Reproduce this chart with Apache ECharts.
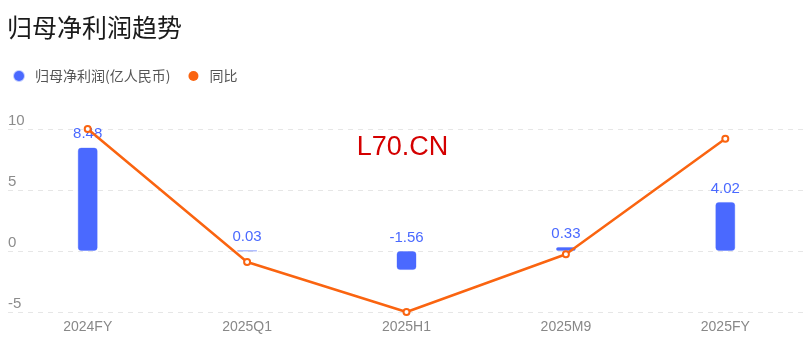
<!DOCTYPE html>
<html>
<head>
<meta charset="utf-8">
<script src="https://cdn.jsdelivr.net/npm/echarts@6/dist/echarts.min.js"></script>
<style>
html,body{margin:0;padding:0;background:#fff;}
#chart{width:805px;height:360px;}
</style>
</head>
<body>
<div id="chart"></div>
<script>
const categories = ['2024FY', '2025Q1', '2025H1', '2025M9', '2025FY'];
const profitValues = [8.48, 0.03, -1.56, 0.33, 4.02];
const yoyValues = [10.0, -0.9, -5.0, -0.27, 9.2];
const yTicks = { min: -5, max: 10, interval: 5 };
const seriesNames = ['归母净利润(亿人民币)', '同比'];
const titleText = '归母净利润趋势';
const watermark = 'L70.CN';

const FONT = '"Noto Sans CJK SC", "Liberation Sans", Arial, sans-serif';
const LATIN = '"Liberation Sans", Arial, sans-serif';
const BLUE = '#4a69ff';
const ORANGE = '#fa6410';

const chart = echarts.init(document.getElementById('chart'), null, { renderer: 'canvas' });
chart.setOption({
  animation: false,
  backgroundColor: '#fff',
  textStyle: { fontFamily: FONT },
  title: {
    text: titleText,
    left: 2,
    top: 10,
    textStyle: { fontSize: 25, fontWeight: 'normal', color: '#1a1a1a', fontFamily: FONT }
  },
  legend: {
    left: 8,
    top: 64,
    icon: 'circle',
    itemWidth: 10,
    itemHeight: 10,
    itemGap: 18,
    data: seriesNames,
    textStyle: { fontSize: 14, color: '#555', lineHeight: 14, padding: [0, 0, 0, 6], fontFamily: FONT }
  },
  graphic: [{
    type: 'text',
    left: 'center',
    top: 134,
    style: { text: watermark, fontSize: 27, fill: '#d40000', fontFamily: LATIN }
  }],
  grid: { left: 8, right: -6, top: 129, bottom: 48, containLabel: false },
  xAxis: {
    type: 'category',
    data: categories,
    axisLine: { show: false },
    axisTick: { show: false },
    axisLabel: { color: '#888', fontSize: 14, margin: 8, fontFamily: LATIN }
  },
  yAxis: [{
    type: 'value',
    min: yTicks.min,
    max: yTicks.max,
    interval: yTicks.interval,
    axisLine: { show: false },
    axisTick: { show: false },
    axisLabel: {
      inside: true,
      margin: 0,
      color: '#8c8c8c',
      fontSize: 15,
      verticalAlign: 'bottom',
      padding: [0, 0, 1, 0],
      fontFamily: LATIN
    },
    splitLine: { lineStyle: { type: [5, 5], color: '#e6e6e6', width: 1 } }
  }, {
    type: 'value',
    min: yTicks.min,
    max: yTicks.max,
    interval: yTicks.interval,
    show: false,
    splitLine: { show: false }
  }],
  series: [{
    name: seriesNames[0],
    type: 'bar',
    data: profitValues,
    barWidth: 20,
    itemStyle: { color: BLUE, borderRadius: 3, borderColor: 'rgba(74,105,255,0.35)', borderWidth: 1 },
    label: {
      show: true,
      position: 'top',
      color: BLUE,
      fontSize: 15,
      distance: 6,
      fontFamily: LATIN
    }
  }, {
    name: seriesNames[1],
    type: 'line',
    yAxisIndex: 1,
    data: yoyValues,
    symbol: 'emptyCircle',
    symbolSize: 6,
    lineStyle: { color: ORANGE, width: 2.5 },
    itemStyle: { color: ORANGE, borderWidth: 2 },
    z: 5
  }]
});
</script>
</body>
</html>
